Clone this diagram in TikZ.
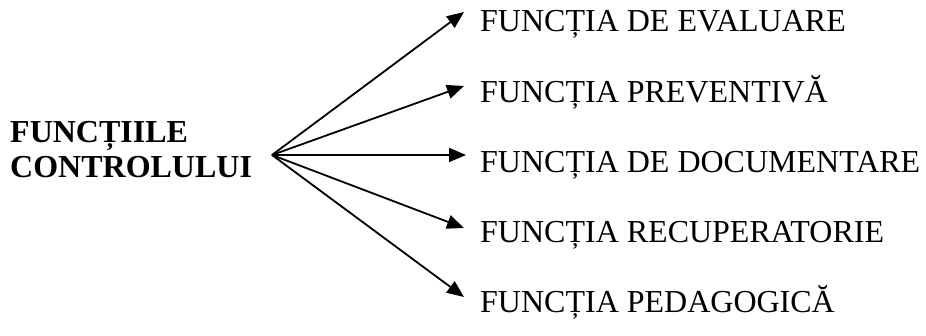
\documentclass[tikz,border=0pt]{standalone}
\usepackage{fontspec}
\setmainfont{Liberation Serif}
\usetikzlibrary{arrows.meta}
\begin{document}
\begin{tikzpicture}[x=1pt,y=-1pt,
  item/.style={anchor=base west,inner sep=0pt,font=\fontsize{32}{36}\selectfont},
  title/.style={anchor=base west,inner sep=0pt,font=\bfseries\fontsize{32}{36}\selectfont},
  link/.style={line width=1.8pt,-{Triangle[length=17pt,width=14pt]}}]
  \useasboundingbox (0,0) rectangle (926,336);
  % left-hand title
  \node[title] (t1) at (10,143) {FUNCȚIILE};
  \node[title] (t2) at (10,178) {CONTROLULUI};
  % the five functions
  \node[item] (f1) at (480,32) {FUNCȚIA DE EVALUARE};
  \node[item] (f2) at (480,103) {FUNCȚIA PREVENTIVĂ};
  \node[item] (f3) at (480,173) {FUNCȚIA DE DOCUMENTARE};
  \node[item] (f4) at (480,243) {FUNCȚIA RECUPERATORIE};
  \node[item] (f5) at (480,313) {FUNCȚIA PEDAGOGICĂ};
  % fan of arrows
  \coordinate (hub) at (272,155);
  \coordinate (e1) at (464,12);
  \coordinate (e2) at (464,86);
  \coordinate (e3) at (466,155);
  \coordinate (e4) at (464,228);
  \coordinate (e5) at (464,297);
  \foreach \i in {1,...,5} \draw[link] (hub) -- (e\i);
\end{tikzpicture}
\end{document}
